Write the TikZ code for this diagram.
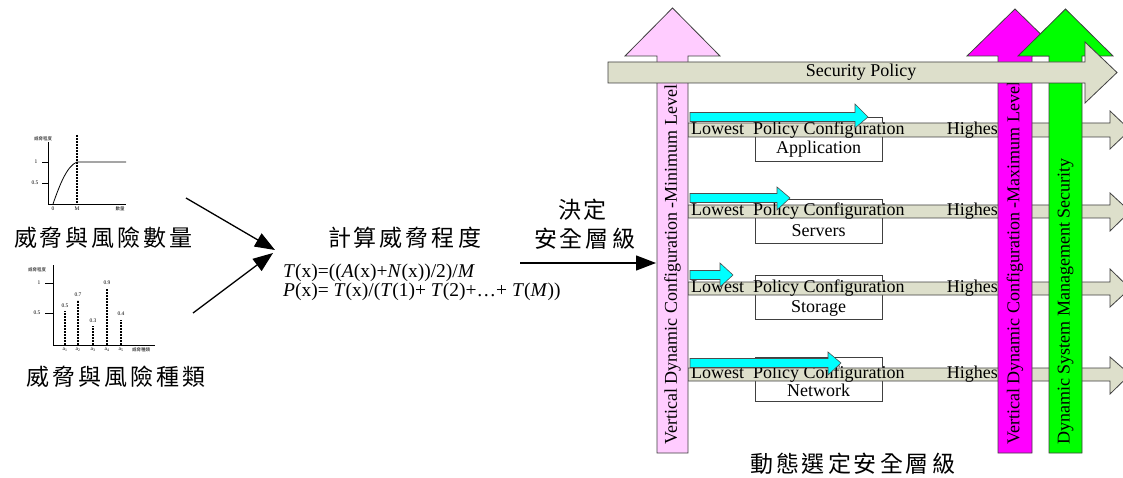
\documentclass[tikz,border=0pt]{standalone}
\usepackage{fontspec}
\setmainfont{Liberation Serif}
\newfontfamily\cjk{Noto Sans CJK TC}
\usetikzlibrary{arrows.meta}
\definecolor{pinkA}{HTML}{FFCCFF}
\definecolor{magA}{HTML}{FF00FF}
\definecolor{greenA}{HTML}{00FF00}
\definecolor{beigeA}{HTML}{DDDFCB}
\definecolor{cyanA}{HTML}{00FFFF}
\definecolor{edgeA}{HTML}{404040}
\newcommand\spacedaux[1]{\ifx#1\relax\else#1\kern3pt\expandafter\spacedaux\fi}
\newcommand\spc[1]{\spacedaux#1\relax}
% vertical block arrow: style, shaft left, shaft right, bottom, head base y, head left, head right, tip y
\newcommand\uparr[8]{\draw[#1] (#2,#4) -- (#2,#5) -- (#6,#5) -- ({(#6+#7)/2},#8) -- (#7,#5) -- (#3,#5) -- (#3,#4) -- cycle;}
% horizontal block arrow: style, left x, head base x, shaft top, shaft bottom, head top, head bottom, tip x
\newcommand\rarr[8]{\draw[#1] (#2,#4) -- (#3,#4) -- (#3,#6) -- (#8,{(#4+#5)/2}) -- (#3,#7) -- (#3,#5) -- (#2,#5) -- cycle;}
\tikzset{
  blk/.style={draw=edgeA, line width=0.8pt},
  lbl/.style={font=\fontsize{18}{20}\selectfont, inner sep=0pt},
  fml/.style={font=\fontsize{19.5}{21}\selectfont, inner sep=0pt, anchor=west},
  cjkt/.style={font=\cjk\fontsize{23}{26}\selectfont, inner sep=0pt},
  tinyl/.style={font=\fontsize{5.5}{6}\selectfont, inner sep=0pt},
  tinyc/.style={font=\cjk\fontsize{4.5}{5}\selectfont, inner sep=0pt},
  conn/.style={line width=1.3pt, -{Triangle[length=20pt,width=15pt]}},
  boxA/.style={draw=edgeA, fill=white, line width=0.8pt, minimum width=127pt, minimum height=44pt, inner sep=0pt},
  vtext/.style={lbl, rotate=90, anchor=west},
  barline/.style={line width=1.6pt, dash pattern=on 2pt off 1pt},
  axisl/.style={line width=0.8pt},
}
\begin{document}
\begin{tikzpicture}[x=1pt,y=-1pt]
\clip (0,0) rectangle (1123,478);
\fill[white] (0,0) rectangle (1123,478);

% ---------- chart 1 ----------
\draw[axisl] (48,142) -- (48,204) -- (126,204);
\draw[axisl] (42,162) -- (48,162);
\draw[axisl] (42,183) -- (48,183);
\node[tinyc] (c1y) at (43,139) {威脅程度};
\node[tinyl] (c1one) at (36,162) {1};
\node[tinyl] (c1half) at (35,183) {0.5};
\draw[line width=0.8pt] (53,204) .. controls (60,184) and (67,166) .. (77,162) -- (126,162);
\draw[line width=1.5pt, dash pattern=on 2pt off 1pt] (77,135) -- (77,204);
\node[tinyl] (c1x0) at (53,209) {0};
\node[tinyl] (c1xm) at (77,209) {M};
\node[tinyc] (c1x) at (120,209) {數量};

% ---------- chart 2 ----------
\draw[axisl] (53,265) -- (53,345) -- (155,345);
\draw[axisl] (45,283) -- (53,283);
\draw[axisl] (45,313) -- (53,313);
\node[tinyc] (c2y) at (37,270) {威脅程度};
\node[tinyl] (c2one) at (39,283) {1};
\node[tinyl] (c2half) at (37,313) {0.5};
\draw[barline] (65,345) -- (65,311);
\draw[barline] (78,345) -- (78,300);
\draw[barline] (93,345) -- (93,326);
\draw[barline] (107,345) -- (107,289);
\draw[barline] (121,345) -- (121,320);
\node[tinyl] (v1) at (65,306) {0.5};
\node[tinyl] (v2) at (78,295) {0.7};
\node[tinyl] (v3) at (93,321) {0.3};
\node[tinyl] (v4) at (107,283) {0.9};
\node[tinyl] (v5) at (121,314) {0.4};
\node[tinyl] (a1) at (65,350) {a\textsubscript{1}};
\node[tinyl] (a2) at (78,350) {a\textsubscript{2}};
\node[tinyl] (a3) at (93,350) {a\textsubscript{3}};
\node[tinyl] (a4) at (107,350) {a\textsubscript{4}};
\node[tinyl] (a5) at (121,350) {a\textsubscript{5}};
\node[tinyc] (c2x) at (141,350) {威脅種類};

% ---------- left texts ----------
\node[cjkt] (qty) at (105,238) {\spc{威脅與風險數量}};
\node[cjkt] (kind) at (118,377) {\spc{威脅與風險種類}};
\node[cjkt] (calc) at (406,238) {\spc{計算威脅程度}};
\node[fml] (f1) at (283,273) {\textit{T}(x)=((\textit{A}(x)+\textit{N}(x))/2)/\textit{M}};
\node[fml] (f2) at (283,292) {\textit{P}(x)= \textit{T}(x)/(\textit{T}(1)+ \textit{T}(2)+…+ \textit{T}(\textit{M}))};
\node[cjkt] (dec1) at (584,210) {\spc{決定}};
\node[cjkt] (dec2) at (586,239) {\spc{安全層級}};
\node[cjkt] (dyn) at (854,464) {\spc{動態選定安全層級}};

\coordinate (s1) at (186,198);
\coordinate (t1) at (275,250);
\coordinate (s2) at (193,313);
\coordinate (t2) at (273,253);
\coordinate (s3) at (520,263);
\coordinate (t3) at (656,263);
\draw[conn] (s1) -- (t1);
\draw[conn] (s2) -- (t2);
\draw[conn] (s3) -- (t3);

% ---------- boxes ----------
\node[boxA] (bapp) at (818.5,139) {};
\node[boxA] (bsrv) at (818.5,221) {};
\node[boxA] (bsto) at (818.5,297.5) {};
\node[boxA] (bnet) at (818.5,379.5) {};
\node[lbl] (tapp) at (818.5,149) {Application};
\node[lbl] (tsrv) at (818.5,231) {Servers};
\node[lbl] (tsto) at (818.5,308) {Storage};
\node[lbl] (tnet) at (818.5,390) {Network};

% ---------- row arrows ----------
\rarr{blk, fill=beigeA}{688}{1110}{123}{137}{111}{149}{1130}
\rarr{blk, fill=beigeA}{688}{1110}{205}{218}{193}{231}{1130}
\rarr{blk, fill=beigeA}{688}{1110}{282}{295}{269}{307}{1130}
\rarr{blk, fill=beigeA}{688}{1110}{368}{381}{357}{394}{1130}
\foreach \y/\n in {130/r1, 211.5/r2, 288.5/r3, 374.5/r4}{
  \node[lbl, anchor=west] (low\n) at (691,\y) {Lowest\hspace{9pt}Policy Configuration};
  \node[lbl, anchor=east] (hi\n) at (998,\y) {Highes};
}

% ---------- vertical arrows ----------
\uparr{blk, fill=pinkA}{657}{688}{453}{56}{625}{720}{8}
\node[vtext] (vmin) at (672.5,445) {Vertical Dynamic Configuration -Minimum Level};
\uparr{blk, fill=magA}{998}{1032}{453}{56}{967}{1063}{9}
\node[vtext] (vmax) at (1015,445) {Vertical Dynamic Configuration -Maximum Level};
\uparr{blk, fill=greenA}{1049}{1082}{453}{56}{1018}{1113}{9}
\node[vtext] (vsys) at (1065.5,445) {Dynamic System Management Security};

% ---------- security policy ----------
\rarr{blk, fill=beigeA}{608}{1085}{62}{83}{42}{103}{1117}
\node[lbl] (secp) at (861,72.5) {Security Policy};

% ---------- cyan arrows ----------
\rarr{draw=black!70, line width=0.6pt, fill=cyanA}{690}{855}{112.5}{121.5}{104}{128}{868}
\rarr{draw=black!70, line width=0.6pt, fill=cyanA}{690}{777}{193.5}{202.5}{187}{210}{790}
\rarr{draw=black!70, line width=0.6pt, fill=cyanA}{690}{720}{270.5}{279.5}{263}{287}{733}
\rarr{draw=black!70, line width=0.6pt, fill=cyanA}{690}{828}{358.5}{367.5}{352}{375}{841}
\end{tikzpicture}
\end{document}
